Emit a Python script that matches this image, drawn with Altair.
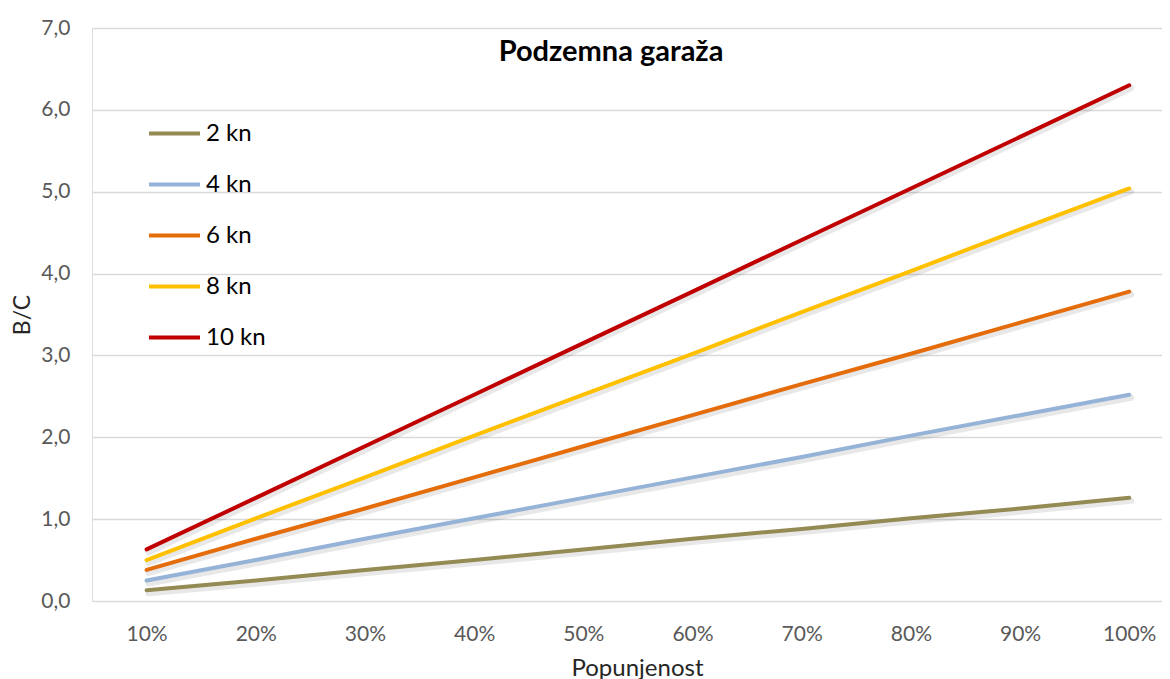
import altair as alt
import pandas as pd

popunjenost = [10, 20, 30, 40, 50, 60, 70, 80, 90, 100]
series_names = ["2 kn", "4 kn", "6 kn", "8 kn", "10 kn"]
kn2 = [0.13, 0.25, 0.38, 0.50, 0.63, 0.76, 0.88, 1.01, 1.13, 1.26]
kn4 = [0.25, 0.50, 0.76, 1.01, 1.26, 1.51, 1.76, 2.02, 2.27, 2.52]
kn6 = [0.38, 0.76, 1.13, 1.51, 1.89, 2.27, 2.65, 3.02, 3.40, 3.78]
kn8 = [0.50, 1.01, 1.51, 2.02, 2.52, 3.02, 3.53, 4.03, 4.54, 5.04]
kn10 = [0.63, 1.26, 1.89, 2.52, 3.15, 3.78, 4.41, 5.04, 5.67, 6.30]
colors = ["#948A54", "#95B3D7", "#E46C0A", "#FFC000", "#C00000"]
chart_title = "Podzemna garaža"

rows = []
for name, vals in zip(series_names, [kn2, kn4, kn6, kn8, kn10]):
    for p, v in zip(popunjenost, vals):
        rows.append({"pop": p, "bc": v, "serija": name})
df = pd.DataFrame(rows)

FONT = "Lato"

x = alt.X("pop:Q",
          scale=alt.Scale(domain=[5, 103], nice=False, zero=False),
          axis=alt.Axis(values=popunjenost, labelExpr="datum.value + '%'",
                        title="Popunjenost", grid=False, domain=False, ticks=False,
                        labelPadding=22, labelFontSize=21, labelColor="#595959",
                        labelFont=FONT, titleFont=FONT, titleFontSize=24,
                        titleFontWeight="normal", titleColor="#262626",
                        titleX=545, titlePadding=12))
y = alt.Y("bc:Q",
          scale=alt.Scale(domain=[0, 7], nice=False),
          axis=alt.Axis(values=[0, 1, 2, 3, 4, 5, 6, 7],
                        labelExpr="replace(format(datum.value, '.1f'), '.', ',')",
                        title="B/C", grid=True, gridColor="#D9D9D9", gridWidth=1.5,
                        domain=False, ticks=False, labelPadding=22,
                        labelFontSize=21, labelColor="#595959", labelFont=FONT,
                        titleFont=FONT, titleFontSize=23, titleFontWeight="normal",
                        titleColor="#262626", titlePadding=6))

shadow = alt.Chart(df).mark_line(strokeWidth=6, color="#000000", opacity=0.09,
                                 xOffset=2, yOffset=3, strokeCap="round").encode(
    x=x, y=y, detail="serija:N")

lines = alt.Chart(df).mark_line(strokeWidth=4, strokeCap="round").encode(
    x=x, y=y,
    color=alt.Color("serija:N",
                    scale=alt.Scale(domain=series_names, range=colors),
                    sort=series_names,
                    legend=alt.Legend(title=None, orient="none", legendX=55, legendY=78,
                                      symbolType="stroke", symbolSize=2601,
                                      symbolStrokeWidth=4, rowPadding=11,
                                      labelOffset=4, labelFontSize=24,
                                      labelFont=FONT, labelColor="#000000",
                                      padding=0, symbolLimit=0)))

title_text = alt.Chart(pd.DataFrame({"t": [chart_title]})).mark_text(
    font=FONT, fontSize=29, fontWeight="bold", color="#000000",
    align="center", baseline="middle").encode(
    text="t:N", x=alt.value(519), y=alt.value(24))

chart = alt.layer(shadow, lines, title_text).properties(
    width=1070, height=573,
    autosize=alt.AutoSizeParams(type="none"),
    padding={"left": 84, "top": 20, "right": 0, "bottom": 78},
).configure_view(stroke=None).configure(background="white")

chart.save("out.html", embed_options={"renderer": "svg", "actions": False})
